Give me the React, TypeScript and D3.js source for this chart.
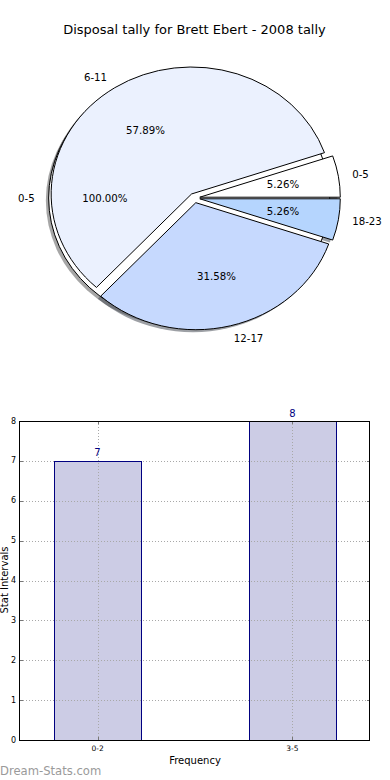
import React from "react";
import * as d3 from "d3";

// ---- Pie data ----
const baseLabels = ["0-5"];
const baseValues = [19];
const baseColors = ["#ffffff"];

const pieLabels = ["0-5", "6-11", "12-17", "18-23"];
const pieValues = [1, 11, 6, 1];
const pieColors = ["#ffffff", "#ebf1fe", "#c6d9fe", "#b5d5fe"];

// ---- Bar data ----
const barCategories = ["0-2", "3-5"];
const barValues = [7, 8];
const yTicks = [0, 1, 2, 3, 4, 5, 6, 7, 8];

const TITLE = "Disposal tally for Brett Ebert - 2008 tally";
const FONT = "'DejaVu Sans', Verdana, sans-serif";

// pie geometry
const CX = 194.5;
const CY = 198;
const RX = 140.5;
const RY = 127;
const EXPLODE = 0.038;

type Slice = {
  label: string;
  value: number;
  color: string;
  start: number;
  end: number;
  mid: number;
  ox: number;
  oy: number;
  pct: number;
};

function buildSlices(labels: string[], values: number[], colors: string[]): Slice[] {
  const total = d3.sum(values);
  const gen = d3
    .pie<number>()
    .sort(null)
    .value((d) => d)
    .startAngle(Math.PI / 2)
    .endAngle(Math.PI / 2 - 2 * Math.PI);
  return gen(values).map((a, i) => {
    const mid = (a.startAngle + a.endAngle) / 2;
    const ox = CX + EXPLODE * RX * Math.sin(mid);
    const oy = CY - EXPLODE * RY * Math.cos(mid);
    return {
      label: labels[i],
      value: values[i],
      color: colors[i],
      start: a.startAngle,
      end: a.endAngle,
      mid,
      ox,
      oy,
      pct: (values[i] / total) * 100,
    };
  });
}

const arcGen = d3.arc<any>().innerRadius(0).outerRadius(1);

function shadowColor(c: string) {
  const r = d3.rgb(c);
  return d3.rgb(r.r * 0.3, r.g * 0.3, r.b * 0.3).formatHex();
}

export default function App() {
  const base = buildSlices(baseLabels, baseValues, baseColors);
  const slices = buildSlices(pieLabels, pieValues, pieColors);
  const all = [...base, ...slices];

  // bar chart scales
  const x = d3
    .scaleBand<string>()
    .domain(barCategories)
    .range([20, 370])
    .paddingInner(0.554)
    .paddingOuter(0.175);
  const y = d3.scaleLinear().domain([0, 8]).range([740, 421]);
  const left = 20,
    right = 370,
    top = 421,
    bottom = 740;

  const path = (s: Slice) =>
    arcGen({ startAngle: s.start, endAngle: s.end } as any) as string;

  const labelPos = (s: Slice, f: number) => ({
    x: s.ox + f * RX * Math.sin(s.mid),
    y: s.oy - f * RY * Math.cos(s.mid),
  });

  const cxOf = (c: string) => Math.round(x(c)! + x.bandwidth() / 2) + 0.5;
  const barRect = (c: string, v: number) => ({
    x: Math.round(x(c)!) + 0.5,
    y: Math.round(y(v)) + 0.5,
    width: Math.round(x.bandwidth()),
    height: Math.round(y(0)) - Math.round(y(v)),
  });

  return (
    <svg
      width={390}
      height={780}
      style={{ position: "absolute", left: 0, top: 0, background: "#fff" }}
      fontFamily={FONT}
    >
      <rect x={0} y={0} width={390} height={780} fill="#fff" />
      <text x={194.5} y={34} textAnchor="middle" fontSize={13} fill="#000">
        {TITLE}
      </text>

      {/* shadows */}
      {all.map((s, i) => (
        <path
          key={"sh" + i}
          d={path(s)}
          transform={`translate(${s.ox - 0.02 * RX},${s.oy + 0.02 * RY}) scale(${RX},${RY})`}
          fill={shadowColor(s.color)}
          fillOpacity={0.5}
          stroke="none"
        />
      ))}
      {/* wedges */}
      {all.map((s, i) => (
        <path
          key={"w" + i}
          d={path(s)}
          transform={`translate(${s.ox},${s.oy}) scale(${RX},${RY})`}
          fill={s.color}
          stroke="#000"
          strokeWidth={1}
          vectorEffect="non-scaling-stroke"
          strokeLinejoin="miter"
        />
      ))}
      {/* labels */}
      {all.map((s, i) => {
        const p = labelPos(s, 1.1);
        const q = labelPos(s, 0.6);
        const anchor = Math.sin(s.mid) < 0 ? "end" : "start";
        return (
          <g key={"l" + i} fontSize={10.2} fill="#000">
            <text x={p.x} y={p.y} textAnchor={anchor} dominantBaseline="central">
              {s.label}
            </text>
            <text x={q.x} y={q.y} textAnchor="middle" dominantBaseline="central">
              {s.pct.toFixed(2) + "%"}
            </text>
          </g>
        );
      })}

      {/* bar fills */}
      {barCategories.map((c, i) => (
        <rect
          key={"bf" + i}
          {...barRect(c, barValues[i])}
          fill="#ccccE5"
          stroke="none"
          shapeRendering="crispEdges"
        />
      ))}
      {/* grid */}
      <g stroke="#a8a8a8" strokeWidth={1} strokeDasharray="1,2" shapeRendering="crispEdges">
        {yTicks.map((t) => (
          <line key={"gy" + t} x1={left} x2={right} y1={Math.round(y(t)) + 0.5} y2={Math.round(y(t)) + 0.5} />
        ))}
        {barCategories.map((c) => (
          <line key={"gx" + c} x1={cxOf(c)} x2={cxOf(c)} y1={top} y2={bottom} />
        ))}
      </g>
      {/* bar outlines */}
      {barCategories.map((c, i) => (
        <rect
          key={"bo" + i}
          {...barRect(c, barValues[i])}
          fill="none"
          stroke="#000080"
          strokeWidth={1}
          shapeRendering="crispEdges"
        />
      ))}
      {/* ticks */}
      <g stroke="#777" strokeWidth={1} shapeRendering="crispEdges">
        {yTicks.map((t) => (
          <g key={"ty" + t}>
            <line x1={left} x2={left + 3} y1={Math.round(y(t)) + 0.5} y2={Math.round(y(t)) + 0.5} />
            <line x1={right - 3} x2={right} y1={Math.round(y(t)) + 0.5} y2={Math.round(y(t)) + 0.5} />
          </g>
        ))}
        {barCategories.map((c) => (
          <g key={"tx" + c}>
            <line x1={cxOf(c)} x2={cxOf(c)} y1={bottom} y2={bottom - 3} />
            <line x1={cxOf(c)} x2={cxOf(c)} y1={top} y2={top + 3} />
          </g>
        ))}
      </g>
      <rect
        x={left - 0.5}
        y={top + 0.5}
        width={right - left}
        height={bottom - top}
        fill="none"
        stroke="#000"
        strokeWidth={1}
        shapeRendering="crispEdges"
      />
      {/* value labels */}
      {barCategories.map((c, i) => (
        <text
          key={"v" + i}
          x={x(c)! + x.bandwidth() / 2}
          y={y(barValues[i]) - 4.5}
          textAnchor="middle"
          fontSize={10}
          fill="#000080"
        >
          {barValues[i]}
        </text>
      ))}
      {/* y tick labels */}
      {yTicks.map((t) => (
        <text
          key={"yl" + t}
          x={16}
          y={y(t)}
          textAnchor="end"
          dominantBaseline="central"
          fontSize={8}
          fill="#000"
        >
          {t}
        </text>
      ))}
      {/* x tick labels */}
      {barCategories.map((c) => (
        <text
          key={"xl" + c}
          x={x(c)! + x.bandwidth() / 2}
          y={751}
          textAnchor="middle"
          fontSize={7.5}
          fill="#000"
        >
          {c}
        </text>
      ))}
      <text x={195} y={764} textAnchor="middle" fontSize={10} fill="#000">
        Frequency
      </text>
      <text
        transform="translate(8,580) rotate(-90)"
        textAnchor="middle"
        fontSize={10}
        fill="#000"
      >
        Stat Intervals
      </text>
      <text x={0} y={775} fontSize={11.6} fill="#9a9a9a">
        Dream-Stats.com
      </text>
    </svg>
  );
}
